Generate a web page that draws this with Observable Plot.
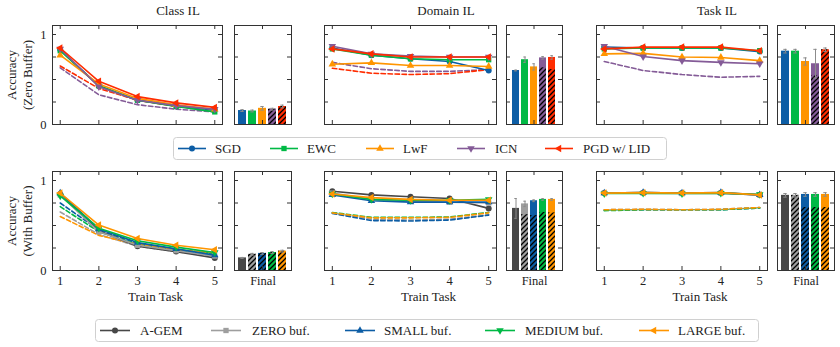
<!DOCTYPE html>
<html><head><meta charset="utf-8">
<script src="https://cdn.jsdelivr.net/npm/d3@7"></script>
<script src="https://cdn.jsdelivr.net/npm/@observablehq/plot@0.6"></script>
<style>
body{margin:0;background:#fff;}
#root{position:relative;width:840px;height:347px;overflow:hidden;background:#fff;font-family:"Liberation Serif","Times New Roman",serif;color:#222;}
</style></head>
<body><div id="root"></div>
<svg width="0" height="0" style="position:absolute"><defs>
<pattern id="hatch" patternUnits="userSpaceOnUse" width="5" height="5">
<path d="M-1,1 l2,-2 M0,5 l5,-5 M4,6 l2,-2" stroke="#000" stroke-width="1.3"/>
</pattern></defs></svg>
<script>
// ---------------- data ----------------
const tasks = [1, 2, 3, 4, 5];
const yTicks = [0.25, 0.5, 0.75, 1];
const yLabelTicks = [0, 1];
const panelTitles = ["Class IL", "Domain IL", "Task IL"];
const rowLabels = [["Accuracy", "(Zero Buffer)"], ["Accuracy", "(With Buffer)"]];
const xTitle = "Train Task";
const barLabel = "Final";
const methodNames = ["SGD", "EWC", "LwF", "ICN", "PGD w/ LID"];
const bufferNames = ["A-GEM", "ZERO buf.", "SMALL buf.", "MEDIUM buf.", "LARGE buf."];
const methodColors = ["#0C5DA5", "#00B945", "#FF9500", "#845B97", "#FF2C00"];
const bufferColors = ["#474747", "#9E9E9E", "#0C5DA5", "#00B945", "#FF9500"];

// top row (zero buffer): solid lines per method
const topClassSolid = [
  [0.83, 0.43, 0.27, 0.21, 0.16],
  [0.82, 0.43, 0.27, 0.20, 0.14],
  [0.77, 0.45, 0.29, 0.22, 0.17],
  [0.84, 0.42, 0.27, 0.21, 0.17],
  [0.85, 0.48, 0.31, 0.24, 0.19]];
const topClassDashed = [null, null, null,
  [0.63, 0.33, 0.22, 0.17, 0.14],
  [0.65, 0.40, 0.27, 0.20, 0.16]];
const topDomainSolid = [
  [0.85, 0.77, 0.73, 0.70, 0.60],
  [0.84, 0.77, 0.73, 0.72, 0.72],
  [0.67, 0.685, 0.655, 0.655, 0.645],
  [0.87, 0.785, 0.76, 0.75, 0.75],
  [0.84, 0.785, 0.75, 0.75, 0.75]];
const topDomainDashed = [null, null, null,
  [0.69, 0.62, 0.59, 0.59, 0.61],
  [0.625, 0.57, 0.555, 0.565, 0.61]];
const topTaskSolid = [
  [0.86, 0.85, 0.85, 0.85, 0.81],
  [0.84, 0.85, 0.85, 0.85, 0.82],
  [0.785, 0.79, 0.75, 0.745, 0.71],
  [0.87, 0.755, 0.71, 0.69, 0.675],
  [0.84, 0.86, 0.86, 0.86, 0.82]];
const topTaskDashed = [null, null, null,
  [0.70, 0.60, 0.555, 0.525, 0.535], null];

// top row final bars
const topClassBar = [0.155, 0.15, 0.18, 0.17, 0.20];
const topClassErr = [0.01, 0.01, 0.02, 0.01, 0.015];
const topClassHatch = [0, 0, 0, 0.17, 0.20];
const topDomainBar = [0.60, 0.72, 0.64, 0.74, 0.745];
const topDomainErr = [0.005, 0.03, 0.035, 0.015, 0.02];
const topDomainHatch = [0, 0, 0, 0.63, 0.61];
const topTaskBar = [0.815, 0.815, 0.70, 0.675, 0.83];
const topTaskErr = [0.02, 0.02, 0.04, 0.16, 0.02];
const topTaskHatch = [0, 0, 0, 0.545, 0.83];

// bottom row (with buffer)
const botClassSolid = [
  [0.85, 0.44, 0.27, 0.21, 0.14],
  [0.84, 0.43, 0.28, 0.22, 0.16],
  [0.86, 0.46, 0.31, 0.24, 0.17],
  [0.83, 0.47, 0.33, 0.26, 0.20],
  [0.86, 0.505, 0.355, 0.28, 0.23]];
const botClassDashed = [null,
  [0.65, 0.40, 0.27, 0.21, 0.16],
  [0.75, 0.45, 0.30, 0.23, 0.18],
  [0.71, 0.43, 0.29, 0.23, 0.19],
  [0.60, 0.39, 0.29, 0.23, 0.20]];
const botDomainSolid = [
  [0.88, 0.84, 0.82, 0.80, 0.69],
  [0.86, 0.79, 0.77, 0.76, 0.75],
  [0.84, 0.775, 0.76, 0.76, 0.76],
  [0.85, 0.79, 0.78, 0.78, 0.79],
  [0.85, 0.81, 0.79, 0.78, 0.78]];
const botDomainDashed = [null,
  [0.64, 0.57, 0.56, 0.57, 0.62],
  [0.635, 0.555, 0.55, 0.56, 0.615],
  [0.645, 0.59, 0.59, 0.595, 0.645],
  [0.64, 0.585, 0.585, 0.59, 0.64]];
const botTaskSolid = [
  [0.86, 0.865, 0.86, 0.86, 0.84],
  [0.86, 0.86, 0.855, 0.86, 0.84],
  [0.86, 0.865, 0.86, 0.865, 0.84],
  [0.855, 0.86, 0.855, 0.86, 0.845],
  [0.86, 0.865, 0.86, 0.865, 0.84]];
const botTaskDashed = [null,
  [0.675, 0.68, 0.675, 0.68, 0.70],
  [0.67, 0.675, 0.675, 0.675, 0.695],
  [0.665, 0.675, 0.675, 0.675, 0.695],
  [0.675, 0.68, 0.675, 0.68, 0.70]];

const botClassBar = [0.14, 0.18, 0.19, 0.20, 0.215];
const botClassErr = [0.005, 0.01, 0.01, 0.01, 0.01];
const botClassHatch = [0, 0.18, 0.19, 0.20, 0.215];
const botDomainBar = [0.69, 0.74, 0.775, 0.79, 0.79];
const botDomainErr = [0.11, 0.03, 0.01, 0.01, 0.01];
const botDomainHatch = [0, 0.62, 0.61, 0.645, 0.64];
const botTaskBar = [0.835, 0.835, 0.845, 0.845, 0.845];
const botTaskErr = [0.02, 0.02, 0.02, 0.02, 0.02];
const botTaskHatch = [0, 0.835, 0.70, 0.70, 0.70];

// ---------------- layout / style ----------------
const root = document.getElementById("root");
const FONT = '"Liberation Serif","Times New Roman",serif';
const AX = "#333";
const ERR = "#8c8c8c";
const ML = 24, MR = 2, MT = 2, MB = 36;
const FH = 99;
const cols = [{lx: 52, lw: 170, bx: 234, bw: 57, tx: 178},
              {lx: 324, lw: 172, bx: 506, bw: 56, tx: 446},
              {lx: 596, lw: 171, bx: 777, bw: 57, tx: 717}];
const rowsY = [25, 171];

function tri(angle) {
  const a0 = (angle - 90) * Math.PI / 180;
  return {draw(ctx, size) {
    const R = Math.sqrt(size / Math.PI) * 1.45;
    for (let k = 0; k < 3; k++) {
      const a = a0 + k * 2 * Math.PI / 3;
      const x = R * Math.cos(a), y = R * Math.sin(a);
      if (k) ctx.lineTo(x, y); else ctx.moveTo(x, y);
    }
    ctx.closePath();
  }};
}
const symbols = [d3.symbolCircle, d3.symbolSquare, tri(0), tri(180), tri(-90)];
const svgStyle = `background:transparent;overflow:visible;font-family:${FONT};color:#222;max-width:none;`;

function place(el, left, top) {
  el.style.position = "absolute";
  el.style.left = left + "px";
  el.style.top = top + "px";
  root.appendChild(el);
}

function frameTicks(fw) {
  return [
    Plot.frame({stroke: AX, strokeWidth: 1}),
    Plot.tickY(yTicks, {y: d => d, insetRight: fw - 4, stroke: AX}),
    Plot.tickY(yTicks, {y: d => d, insetLeft: fw - 4, stroke: AX})
  ];
}

function linePanel(solid, dashed, colors, fx, fy, fw, showY, showX) {
  const marks = [];
  dashed.forEach((vals, i) => {
    if (vals) marks.push(Plot.lineY(vals, {x: (d, j) => tasks[j], y: d => d, stroke: colors[i], strokeWidth: 1.6, strokeDasharray: "4.5,2.5"}));
  });
  solid.forEach((vals, i) => {
    marks.push(Plot.lineY(vals, {x: (d, j) => tasks[j], y: d => d, stroke: colors[i], strokeWidth: 1.6}));
    marks.push(Plot.dot(vals, {x: (d, j) => tasks[j], y: d => d, symbol: symbols[i], r: 3, fill: colors[i], stroke: "none"}));
  });
  marks.push(...frameTicks(fw));
  marks.push(Plot.tickX(tasks, {x: d => d, insetBottom: FH - 4, stroke: AX}));
  marks.push(Plot.tickX(tasks, {x: d => d, insetTop: FH - 4, stroke: AX}));
  if (showY) marks.push(Plot.text(yLabelTicks, {y: d => d, text: d => String(d), frameAnchor: "left", textAnchor: "end", dx: -6, fontSize: 12.5, fontFamily: FONT}));
  if (showX) {
    marks.push(Plot.text(tasks, {x: d => d, text: d => String(d), frameAnchor: "bottom", lineAnchor: "top", dy: 6, fontSize: 12.5, fontFamily: FONT}));
    marks.push(Plot.text([xTitle], {text: d => d, frameAnchor: "bottom", lineAnchor: "top", dy: 21, dx: 18, fontSize: 13, fontFamily: FONT}));
  }
  const svg = Plot.plot({
    width: fw + ML + MR, height: FH + MT + MB,
    marginLeft: ML, marginRight: MR, marginTop: MT, marginBottom: MB,
    x: {domain: [0.8, 5.2], axis: null},
    y: {domain: [0, 1.1], axis: null},
    style: svgStyle,
    marks
  });
  place(svg, fx - ML, fy - MT);
}

function barPanel(names, colors, vals, errs, hatch, fx, fy, fw, showX) {
  const rows = names.map((n, i) => ({n, v: vals[i], e: errs[i], h: hatch[i], c: colors[i]}));
  const marks = [
    Plot.barY(rows, {x: "n", y: "v", fill: "c"}),
    Plot.barY(rows.filter(d => d.h > 0), {x: "n", y: "h", fill: "url(#hatch)"}),
    Plot.ruleX(rows, {x: "n", y1: d => d.v - d.e, y2: d => d.v + d.e, stroke: ERR, strokeWidth: 1}),
    Plot.tickY(rows, {x: "n", y: d => d.v + d.e, stroke: ERR, insetLeft: 2.3, insetRight: 2.3}),
    Plot.tickY(rows, {x: "n", y: d => d.v - d.e, stroke: ERR, insetLeft: 2.3, insetRight: 2.3}),
    ...frameTicks(fw),
    Plot.tickX([names[2]], {x: d => d, insetBottom: FH - 4, stroke: AX}),
    Plot.tickX([names[2]], {x: d => d, insetTop: FH - 4, stroke: AX})
  ];
  if (showX) marks.push(Plot.text([barLabel], {text: d => d, frameAnchor: "bottom", lineAnchor: "top", dy: 6, fontSize: 12.5, fontFamily: FONT}));
  const svg = Plot.plot({
    width: fw + ML + MR, height: FH + MT + MB,
    marginLeft: ML, marginRight: MR, marginTop: MT, marginBottom: MB,
    x: {domain: names, paddingInner: 0.17, paddingOuter: 0.43, axis: null},
    y: {domain: [0, 1.1], axis: null},
    color: {type: "identity"},
    style: svgStyle,
    marks
  });
  place(svg, fx - ML, fy - MT);
}

function htmlText(txt, cx, cy, size) {
  const d = document.createElement("div");
  d.textContent = txt;
  d.style.fontSize = size + "px";
  d.style.whiteSpace = "nowrap";
  d.style.transform = "translate(-50%,-50%)";
  place(d, cx, cy);
}

function rowLabel(lines, cx, cy) {
  const d = document.createElement("div");
  d.style.width = "140px";
  d.style.height = "32px";
  d.style.lineHeight = "16px";
  d.style.fontSize = "13px";
  d.style.textAlign = "center";
  d.style.transform = "rotate(-90deg)";
  d.innerHTML = lines.map(l => `<div>${l}</div>`).join("");
  place(d, cx - 70, cy - 16);
}

function legend(names, colors, box, lineX, textX, lineLen) {
  const svg = d3.create("svg").attr("width", box.w).attr("height", box.h).style("overflow", "visible");
  svg.append("rect").attr("x", 0.5).attr("y", 0.5).attr("width", box.w - 1).attr("height", box.h - 1)
    .attr("rx", 3).attr("fill", "#fff").attr("stroke", "#d0d0d0");
  const cy = box.h / 2;
  names.forEach((n, i) => {
    svg.append("line").attr("x1", lineX[i]).attr("x2", lineX[i] + lineLen).attr("y1", cy).attr("y2", cy)
      .attr("stroke", colors[i]).attr("stroke-width", 1.6);
    svg.append("path").attr("d", d3.symbol(symbols[i], Math.PI * 9)())
      .attr("transform", `translate(${lineX[i] + lineLen / 2},${cy})`).attr("fill", colors[i]);
    svg.append("text").attr("x", textX[i]).attr("y", cy).attr("dy", "0.35em").text(n)
      .attr("font-size", 13).attr("font-family", FONT).attr("fill", "#222");
  });
  place(svg.node(), box.x, box.y);
}

// ---------------- draw ----------------
const topSolid = [topClassSolid, topDomainSolid, topTaskSolid];
const topDashed = [topClassDashed, topDomainDashed, topTaskDashed];
const topBars = [[topClassBar, topClassErr, topClassHatch], [topDomainBar, topDomainErr, topDomainHatch], [topTaskBar, topTaskErr, topTaskHatch]];
const botSolid = [botClassSolid, botDomainSolid, botTaskSolid];
const botDashed = [botClassDashed, botDomainDashed, botTaskDashed];
const botBars = [[botClassBar, botClassErr, botClassHatch], [botDomainBar, botDomainErr, botDomainHatch], [botTaskBar, botTaskErr, botTaskHatch]];

cols.forEach((c, k) => {
  linePanel(topSolid[k], topDashed[k], methodColors, c.lx, rowsY[0], c.lw, k === 0, false);
  barPanel(methodNames, methodColors, ...topBars[k], c.bx, rowsY[0], c.bw, false);
  linePanel(botSolid[k], botDashed[k], bufferColors, c.lx, rowsY[1], c.lw, k === 0, true);
  barPanel(bufferNames, bufferColors, ...botBars[k], c.bx, rowsY[1], c.bw, true);
  htmlText(panelTitles[k], c.tx, 11, 13);
});
rowLabel(rowLabels[0], 20, 75);
rowLabel(rowLabels[1], 20, 221);

legend(methodNames, methodColors, {x: 173, y: 137, w: 494, h: 23},
  [5, 97, 193, 284, 372], [42, 134, 230, 322, 410], 28);
legend(bufferNames, bufferColors, {x: 95, y: 319, w: 664, h: 23},
  [5, 116, 250, 390, 544], [45, 157, 289, 430, 583], 30);
</script></body></html>
